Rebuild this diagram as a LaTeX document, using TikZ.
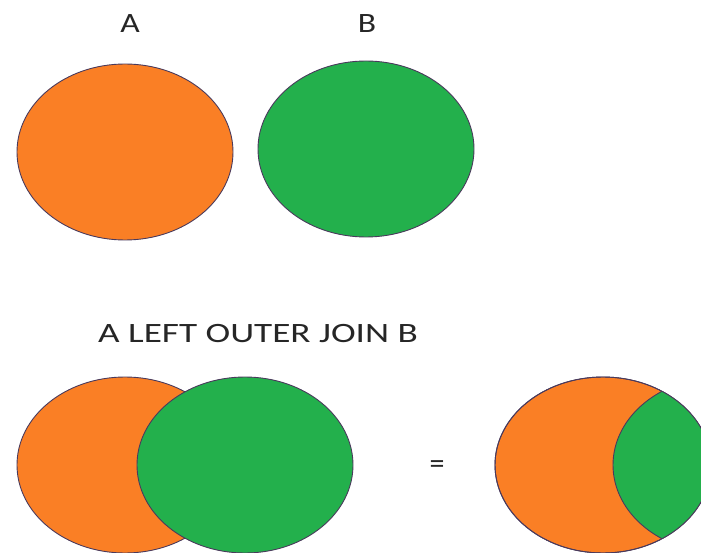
\documentclass[tikz,border=0pt]{standalone}
\usepackage{fontspec}
\setmainfont{Carlito}
\definecolor{jorange}{HTML}{FA7F25}
\definecolor{jgreen}{HTML}{23B04C}
\definecolor{jedge}{HTML}{4A3A5C}
\begin{document}
\begin{tikzpicture}[x=1pt,y=-1pt,
  setA/.style={fill=jorange,draw=jedge,line width=0.9pt},
  setB/.style={fill=jgreen,draw=jedge,line width=0.9pt},
  lbl/.style={font=\fontsize{28}{32}\selectfont,text=black!85,inner sep=0pt}]
\useasboundingbox (0,0) rectangle (701,553);
\clip (0,0) rectangle (701,553);
% top labels
\node[lbl] (la) at (130,24) {\scalebox{1.2}[1]{A}};
\node[lbl] (lb) at (367,24) {\scalebox{1.2}[1]{B}};
% top sets
\path[setA] (125,152) ellipse [x radius=108pt, y radius=88pt];
\path[setB] (366,149) ellipse [x radius=108pt, y radius=88pt];
% title
\node[lbl] (title) at (258,334) {\scalebox{1.33}[1]{A LEFT OUTER JOIN B}};
% bottom left
\path[setA] (125,465) ellipse [x radius=108pt, y radius=88pt];
\path[setB] (245,465) ellipse [x radius=108pt, y radius=88pt];
% equals
\node[lbl,font=\fontsize{30}{34}\selectfont] (eq) at (437,467) {=};
% bottom right
\path[setA] (603,465) ellipse [x radius=108pt, y radius=88pt];
\begin{scope}
  \clip (603,465) ellipse [x radius=108pt, y radius=88pt];
  \path[setB] (721,465) ellipse [x radius=108pt, y radius=88pt];
\end{scope}
\draw[draw=jedge,line width=0.9pt] (603,465) ellipse [x radius=108pt, y radius=88pt];
\end{tikzpicture}
\end{document}
